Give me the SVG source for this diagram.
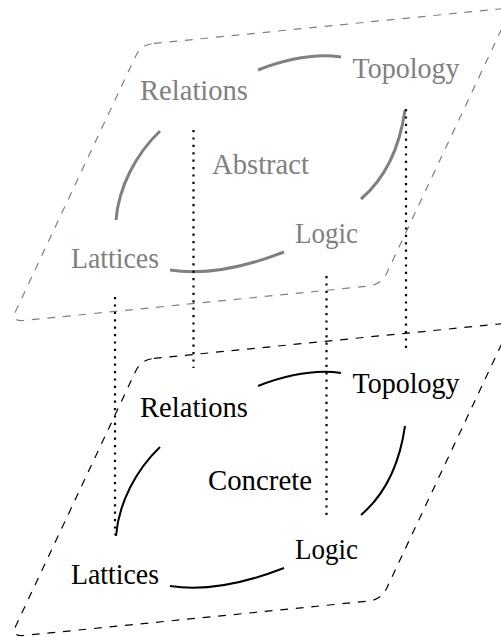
<svg xmlns="http://www.w3.org/2000/svg" width="501" height="637" viewBox="0 0 501 637">
<style>
.plane{fill:none;stroke-width:1.2;stroke-dasharray:7.8 7.8}
.abs .plane{stroke:#808080}
.con .plane{stroke:#000}
text{font-family:"Liberation Serif","Times New Roman",serif;font-size:28.5px;text-anchor:middle}
.abs text{fill:#808080}
.con text{fill:#000}
.edge{fill:none;stroke-linecap:butt}
.abs .edge{stroke:#808080;stroke-width:3}
.con .edge{stroke:#000;stroke-width:2}
.dot{stroke:#000;stroke-width:2.2;stroke-dasharray:2.2 5.2;fill:none}
</style>
<g id="plane-abstract" class="abs">
<path class="plane" d="M153.9,43.4 L498.7,9 Q511.6,7.7 506.1,19.5 L386.8,273 Q381.3,284.8 368.4,286.1 L23.6,320.5 Q10.7,321.8 16.2,310 L135.5,56.5 Q141,44.7 153.9,43.4 Z"/>
</g>
<g id="plane-concrete" class="con">
<path class="plane" d="M153.9,358.4 L498.7,324 Q511.6,322.7 506.1,334.5 L386.8,588 Q381.3,599.8 368.4,601.1 L23.6,635.5 Q10.7,636.8 16.2,625 L135.5,371.5 Q141,359.7 153.9,358.4 Z"/>
</g>
<g id="abstract-label" class="abs"><text x="260.5" y="174" textLength="97" lengthAdjust="spacingAndGlyphs">Abstract</text></g>
<g id="abs-relations" class="abs"><text x="194" y="100" textLength="108" lengthAdjust="spacingAndGlyphs">Relations</text></g>
<g id="abs-topology" class="abs"><text x="406" y="77.5" textLength="107" lengthAdjust="spacingAndGlyphs">Topology</text></g>
<g id="abs-logic" class="abs"><text x="326.5" y="243" textLength="63" lengthAdjust="spacingAndGlyphs">Logic</text></g>
<g id="abs-lattices" class="abs"><text x="115" y="268" textLength="88" lengthAdjust="spacingAndGlyphs">Lattices</text></g>
<g id="concrete-label" class="con"><text x="260" y="490" textLength="104" lengthAdjust="spacingAndGlyphs">Concrete</text></g>
<g id="con-relations" class="con"><text x="194" y="416.5" textLength="108" lengthAdjust="spacingAndGlyphs">Relations</text></g>
<g id="con-topology" class="con"><text x="406" y="393" textLength="107" lengthAdjust="spacingAndGlyphs">Topology</text></g>
<g id="con-logic" class="con"><text x="326.5" y="559" textLength="63" lengthAdjust="spacingAndGlyphs">Logic</text></g>
<g id="con-lattices" class="con"><text x="115" y="584" textLength="88" lengthAdjust="spacingAndGlyphs">Lattices</text></g>
<g id="connectors">
<g class="abs">
<path class="edge" d="M258,70 C284,60 313,53 341,57"/>
<path class="edge" d="M405,110 C400,145 388,176 361,199"/>
<path class="edge" d="M284,252 C248,266 208,276 170,270"/>
<path class="edge" d="M116,220 C118.6,187 136,154 160,131"/>
</g>
<g class="con">
<path class="edge" d="M258,386 C284,376 313,369 341,373"/>
<path class="edge" d="M405,426 C400,461 388,492 361,515"/>
<path class="edge" d="M284,568 C248,582 208,592 170,586"/>
<path class="edge" d="M116,536 C118.6,503 136,470 160,447"/>
</g>
<path class="dot" d="M115,297 V535"/>
<path class="dot" d="M193.5,130 V368"/>
<path class="dot" d="M326.5,276 V515"/>
<path class="dot" d="M406,109 V348"/>
</g>
</svg>
